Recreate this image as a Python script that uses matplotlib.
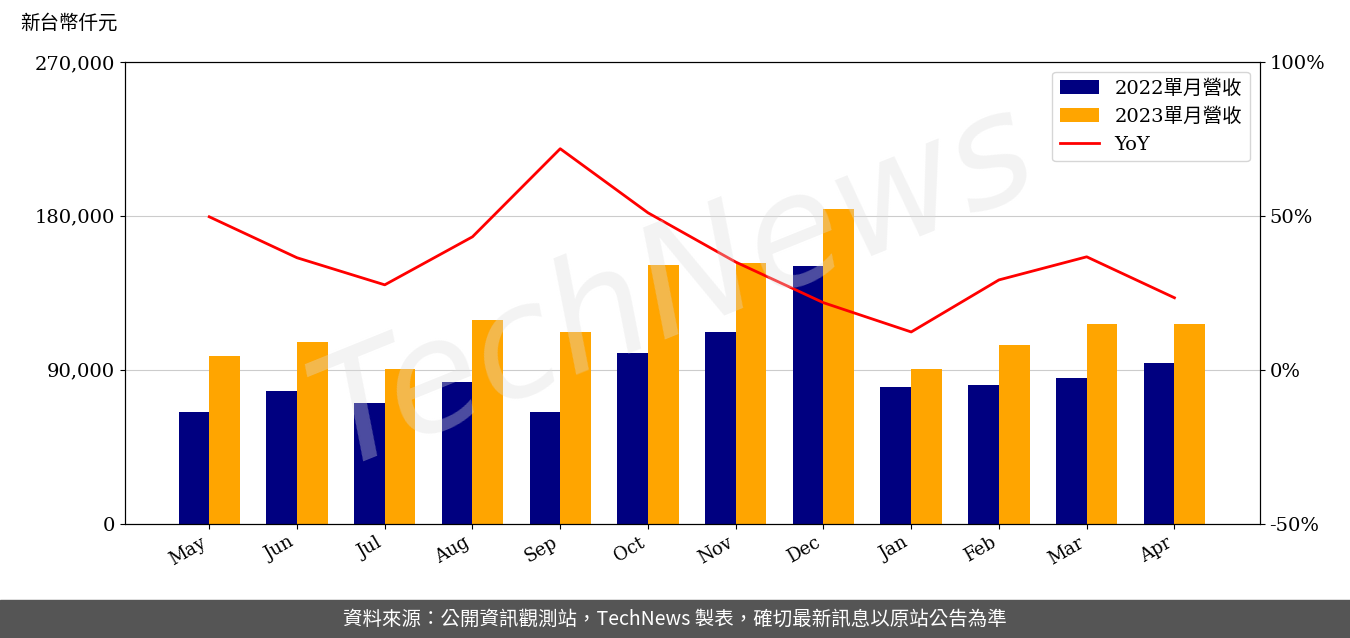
import matplotlib
matplotlib.use("Agg")
import matplotlib.pyplot as plt
import numpy as np

months = ["May","Jun","Jul","Aug","Sep","Oct","Nov","Dec","Jan","Feb","Mar","Apr"]
rev2022 = [65500,77700,70700,83000,65500,99900,112200,150800,80000,81200,85300,94100]
rev2023 = [98200,106400,90600,119200,112200,151400,152500,184100,90600,104600,116900,116900]
yoy = [49.7,36.4,27.6,43.2,71.8,51.0,35.0,21.8,12.3,29.2,36.7,23.4]

fam = ['DejaVu Serif', 'Noto Sans CJK TC']
plt.rcParams['font.family'] = fam

fig = plt.figure(figsize=(13.5, 6.38), dpi=100)
ax = fig.add_axes([0.0926, 0.179, 0.8404, 0.724])
x = np.arange(len(months))
w = 0.35
ax.bar(x - w/2, rev2022, w, color='#000080', label='2022單月營收', zorder=2)
ax.bar(x + w/2, rev2023, w, color='#FFA500', label='2023單月營收', zorder=2)
ax.set_ylim(0, 270000)
ax.set_yticks([0, 90000, 180000, 270000])
ax.set_yticklabels([f"{v:,}" for v in [0, 90000, 180000, 270000]], fontsize=14)
ax.grid(axis='y', color='#cccccc', zorder=0)
ax.set_xticks(x)
ax.set_xticklabels(months, rotation=30, ha='right', fontsize=13)
ax.set_xlim(-0.96, 11.97)

ax2 = ax.twinx()
ax2.plot(x, yoy, color='red', lw=2, label='YoY')
ax2.set_ylim(-50, 100)
ax2.set_yticks([-50, 0, 50, 100])
ax2.set_yticklabels(['-50%', '0%', '50%', '100%'], fontsize=14)

h1, l1 = ax.get_legend_handles_labels()
h2, l2 = ax2.get_legend_handles_labels()
ax2.legend(h1 + h2, l1 + l2, loc='upper right', fontsize=14)

fig.text(0.015, 0.955, '新台幣仟元', fontsize=14, family=['Noto Sans CJK TC'])
fig.text(0.5, 0.55, 'TechNews', fontsize=110, rotation=22, color='#dddddd', alpha=0.35,
         ha='center', va='center', family=['DejaVu Sans'], fontstyle='italic', zorder=0)

fig.patches.append(plt.Rectangle((0, 0), 1, 0.06, transform=fig.transFigure, color='#555555', zorder=0))
fig.text(0.5, 0.03, '資料來源：公開資訊觀測站，TechNews 製表，確切最新訊息以原站公告為準',
         color='white', fontsize=14, ha='center', va='center', family=['Noto Sans CJK TC'])
fig.savefig('out.png', dpi=100)
